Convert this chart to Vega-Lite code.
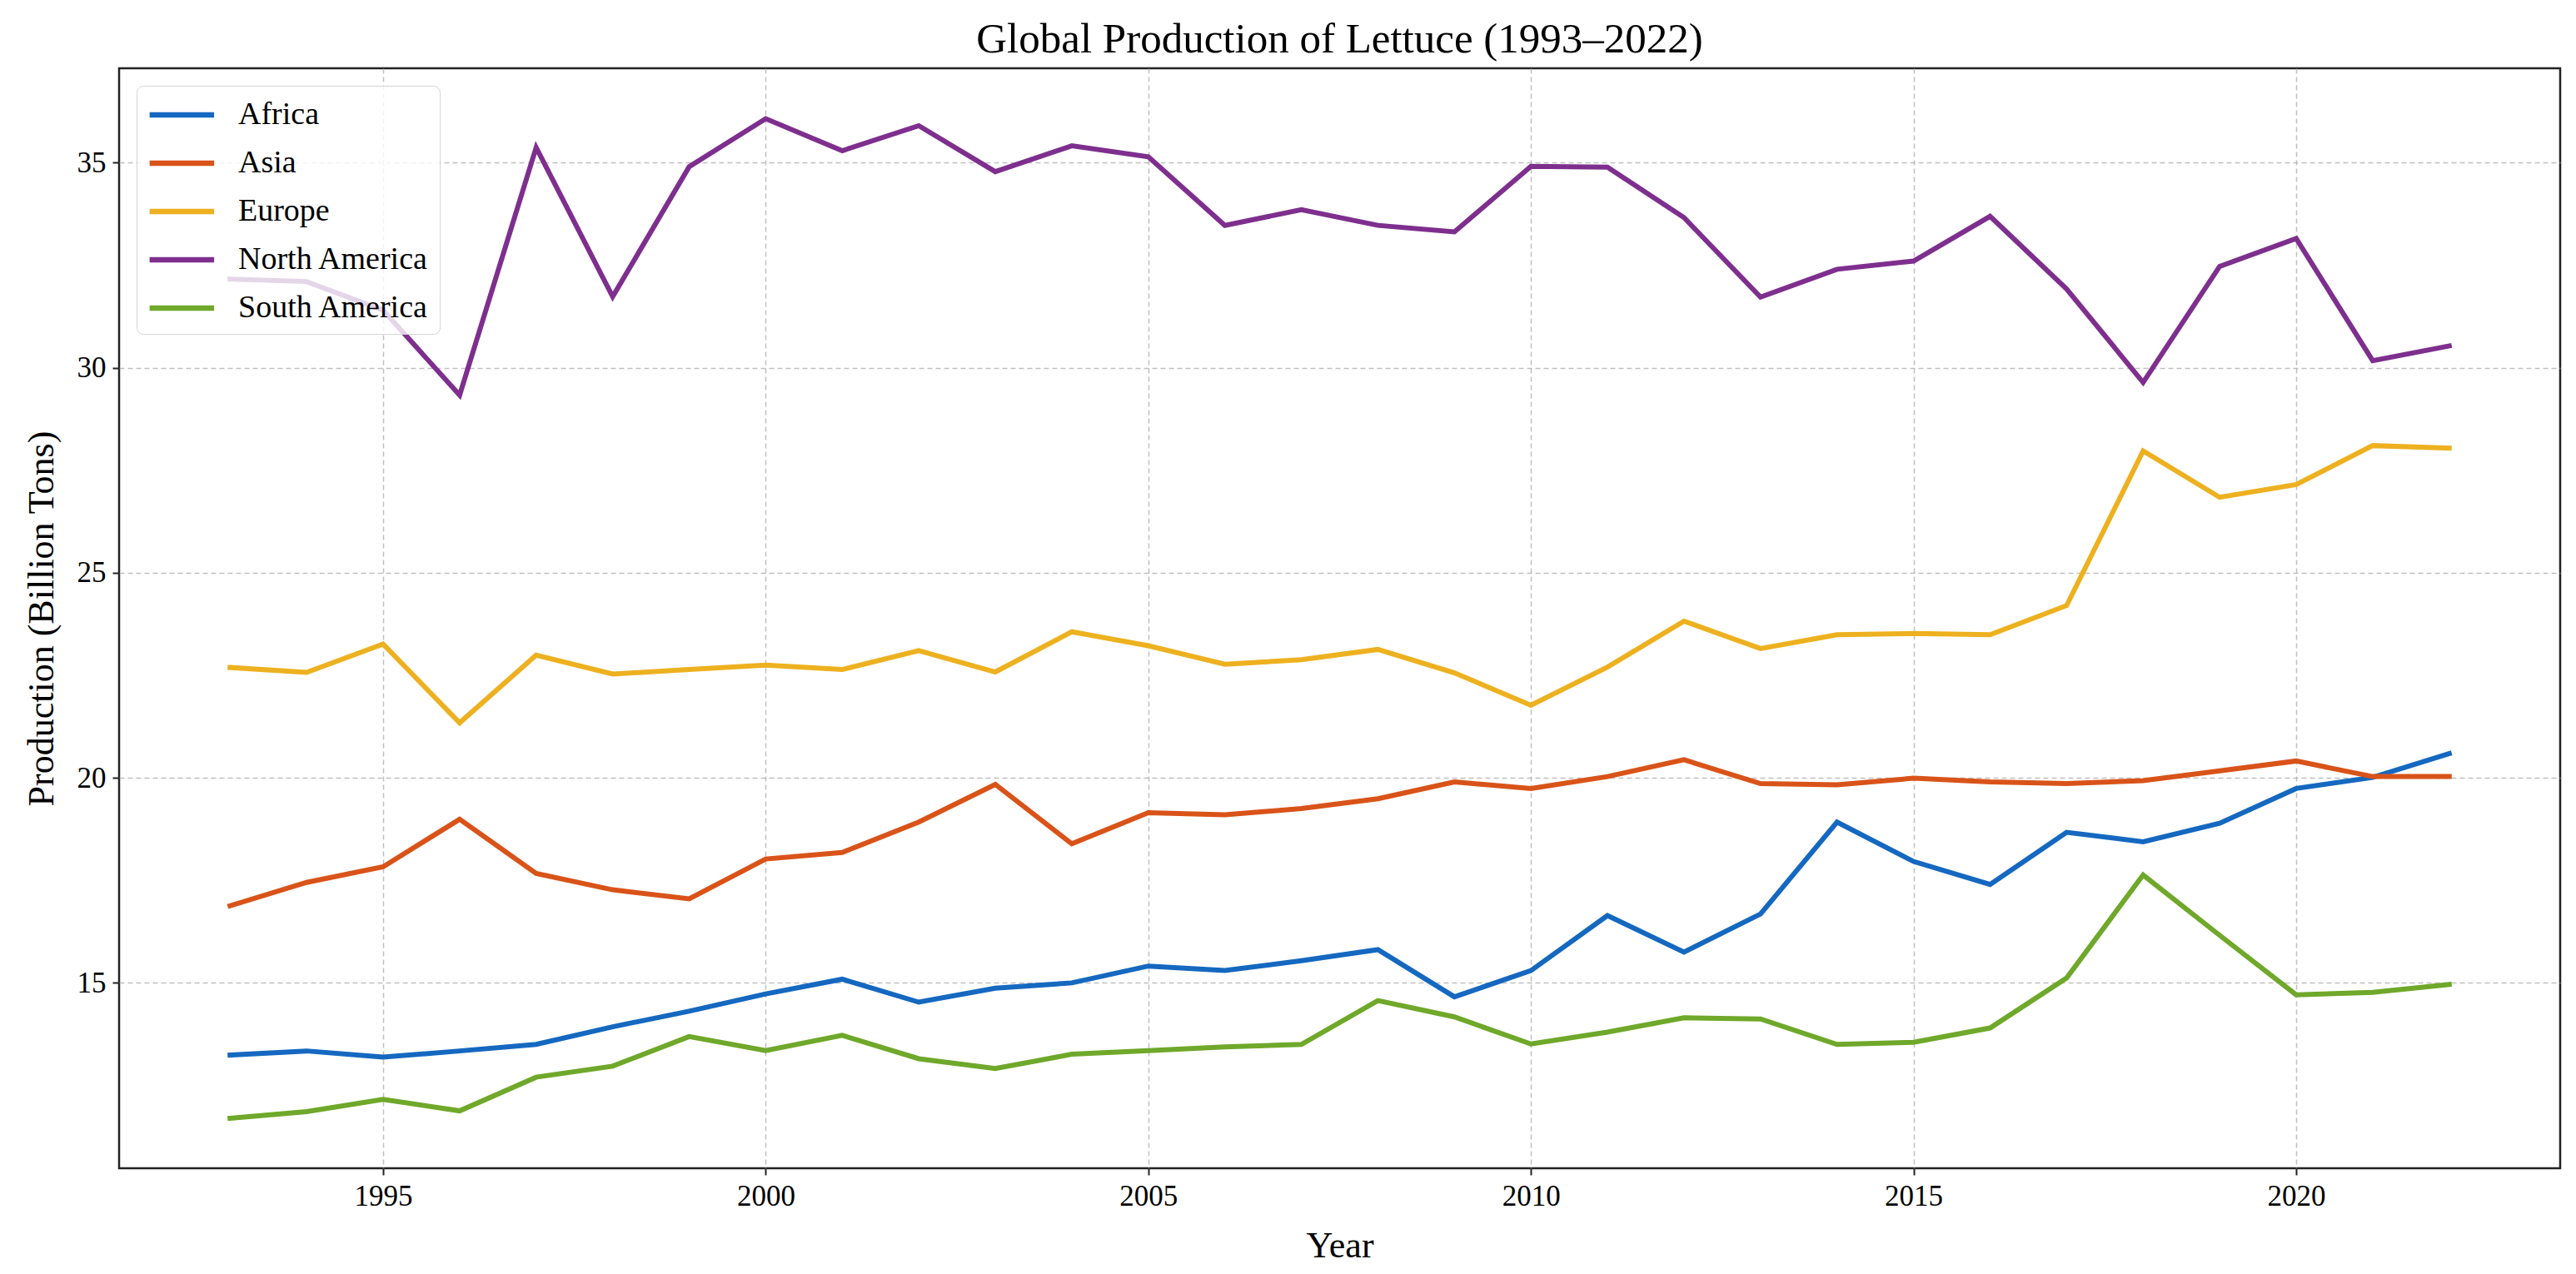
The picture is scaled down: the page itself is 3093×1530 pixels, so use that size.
{
  "$schema": "https://vega.github.io/schema/vega-lite/v6.json",
  "autosize": {"type": "none"},
  "padding": {"left": 143, "top": 82, "right": 19, "bottom": 127},
  "width": 2931,
  "height": 1321,
  "background": "white",
  "title": {
    "text": "Global Production of Lettuce (1993–2022)",
    "font": "Liberation Serif",
    "fontSize": 51,
    "fontWeight": "normal",
    "color": "black",
    "anchor": "middle",
    "offset": 8
  },
  "datasets": {
    "prod": [
      {"year": 1993, "region": "Africa", "value": 13.24},
      {"year": 1994, "region": "Africa", "value": 13.34},
      {"year": 1995, "region": "Africa", "value": 13.19},
      {"year": 1996, "region": "Africa", "value": 13.34},
      {"year": 1997, "region": "Africa", "value": 13.5},
      {"year": 1998, "region": "Africa", "value": 13.93},
      {"year": 1999, "region": "Africa", "value": 14.31},
      {"year": 2000, "region": "Africa", "value": 14.73},
      {"year": 2001, "region": "Africa", "value": 15.09},
      {"year": 2002, "region": "Africa", "value": 14.53},
      {"year": 2003, "region": "Africa", "value": 14.87},
      {"year": 2004, "region": "Africa", "value": 15.0},
      {"year": 2005, "region": "Africa", "value": 15.41},
      {"year": 2006, "region": "Africa", "value": 15.3},
      {"year": 2007, "region": "Africa", "value": 15.54},
      {"year": 2008, "region": "Africa", "value": 15.81},
      {"year": 2009, "region": "Africa", "value": 14.66},
      {"year": 2010, "region": "Africa", "value": 15.3},
      {"year": 2011, "region": "Africa", "value": 16.64},
      {"year": 2012, "region": "Africa", "value": 15.75},
      {"year": 2013, "region": "Africa", "value": 16.68},
      {"year": 2014, "region": "Africa", "value": 18.92},
      {"year": 2015, "region": "Africa", "value": 17.96},
      {"year": 2016, "region": "Africa", "value": 17.4},
      {"year": 2017, "region": "Africa", "value": 18.67},
      {"year": 2018, "region": "Africa", "value": 18.44},
      {"year": 2019, "region": "Africa", "value": 18.89},
      {"year": 2020, "region": "Africa", "value": 19.74},
      {"year": 2021, "region": "Africa", "value": 20.01},
      {"year": 2022, "region": "Africa", "value": 20.59},
      {"year": 1993, "region": "Asia", "value": 16.88},
      {"year": 1994, "region": "Asia", "value": 17.45},
      {"year": 1995, "region": "Asia", "value": 17.83},
      {"year": 1996, "region": "Asia", "value": 18.99},
      {"year": 1997, "region": "Asia", "value": 17.67},
      {"year": 1998, "region": "Asia", "value": 17.27},
      {"year": 1999, "region": "Asia", "value": 17.05},
      {"year": 2000, "region": "Asia", "value": 18.02},
      {"year": 2001, "region": "Asia", "value": 18.18},
      {"year": 2002, "region": "Asia", "value": 18.92},
      {"year": 2003, "region": "Asia", "value": 19.84},
      {"year": 2004, "region": "Asia", "value": 18.39},
      {"year": 2005, "region": "Asia", "value": 19.15},
      {"year": 2006, "region": "Asia", "value": 19.1},
      {"year": 2007, "region": "Asia", "value": 19.25},
      {"year": 2008, "region": "Asia", "value": 19.49},
      {"year": 2009, "region": "Asia", "value": 19.9},
      {"year": 2010, "region": "Asia", "value": 19.74},
      {"year": 2011, "region": "Asia", "value": 20.03},
      {"year": 2012, "region": "Asia", "value": 20.44},
      {"year": 2013, "region": "Asia", "value": 19.86},
      {"year": 2014, "region": "Asia", "value": 19.83},
      {"year": 2015, "region": "Asia", "value": 19.99},
      {"year": 2016, "region": "Asia", "value": 19.9},
      {"year": 2017, "region": "Asia", "value": 19.86},
      {"year": 2018, "region": "Asia", "value": 19.93},
      {"year": 2019, "region": "Asia", "value": 20.17},
      {"year": 2020, "region": "Asia", "value": 20.41},
      {"year": 2021, "region": "Asia", "value": 20.03},
      {"year": 2022, "region": "Asia", "value": 20.03},
      {"year": 1993, "region": "Europe", "value": 22.69},
      {"year": 1994, "region": "Europe", "value": 22.57},
      {"year": 1995, "region": "Europe", "value": 23.26},
      {"year": 1996, "region": "Europe", "value": 21.34},
      {"year": 1997, "region": "Europe", "value": 22.99},
      {"year": 1998, "region": "Europe", "value": 22.53},
      {"year": 1999, "region": "Europe", "value": 22.64},
      {"year": 2000, "region": "Europe", "value": 22.75},
      {"year": 2001, "region": "Europe", "value": 22.64},
      {"year": 2002, "region": "Europe", "value": 23.1},
      {"year": 2003, "region": "Europe", "value": 22.58},
      {"year": 2004, "region": "Europe", "value": 23.56},
      {"year": 2005, "region": "Europe", "value": 23.22},
      {"year": 2006, "region": "Europe", "value": 22.77},
      {"year": 2007, "region": "Europe", "value": 22.88},
      {"year": 2008, "region": "Europe", "value": 23.13},
      {"year": 2009, "region": "Europe", "value": 22.56},
      {"year": 2010, "region": "Europe", "value": 21.77},
      {"year": 2011, "region": "Europe", "value": 22.7},
      {"year": 2012, "region": "Europe", "value": 23.82},
      {"year": 2013, "region": "Europe", "value": 23.15},
      {"year": 2014, "region": "Europe", "value": 23.49},
      {"year": 2015, "region": "Europe", "value": 23.52},
      {"year": 2016, "region": "Europe", "value": 23.49},
      {"year": 2017, "region": "Europe", "value": 24.2},
      {"year": 2018, "region": "Europe", "value": 27.97},
      {"year": 2019, "region": "Europe", "value": 26.84},
      {"year": 2020, "region": "Europe", "value": 27.15},
      {"year": 2021, "region": "Europe", "value": 28.1},
      {"year": 2022, "region": "Europe", "value": 28.04},
      {"year": 1993, "region": "North America", "value": 32.16},
      {"year": 1994, "region": "North America", "value": 32.1},
      {"year": 1995, "region": "North America", "value": 31.4},
      {"year": 1996, "region": "North America", "value": 29.33},
      {"year": 1997, "region": "North America", "value": 35.37},
      {"year": 1998, "region": "North America", "value": 31.73},
      {"year": 1999, "region": "North America", "value": 34.9},
      {"year": 2000, "region": "North America", "value": 36.07},
      {"year": 2001, "region": "North America", "value": 35.29},
      {"year": 2002, "region": "North America", "value": 35.9},
      {"year": 2003, "region": "North America", "value": 34.78},
      {"year": 2004, "region": "North America", "value": 35.41},
      {"year": 2005, "region": "North America", "value": 35.14},
      {"year": 2006, "region": "North America", "value": 33.47},
      {"year": 2007, "region": "North America", "value": 33.85},
      {"year": 2008, "region": "North America", "value": 33.47},
      {"year": 2009, "region": "North America", "value": 33.31},
      {"year": 2010, "region": "North America", "value": 34.91},
      {"year": 2011, "region": "North America", "value": 34.89},
      {"year": 2012, "region": "North America", "value": 33.66},
      {"year": 2013, "region": "North America", "value": 31.72},
      {"year": 2014, "region": "North America", "value": 32.4},
      {"year": 2015, "region": "North America", "value": 32.6},
      {"year": 2016, "region": "North America", "value": 33.69},
      {"year": 2017, "region": "North America", "value": 31.92},
      {"year": 2018, "region": "North America", "value": 29.64},
      {"year": 2019, "region": "North America", "value": 32.47},
      {"year": 2020, "region": "North America", "value": 33.15},
      {"year": 2021, "region": "North America", "value": 30.17},
      {"year": 2022, "region": "North America", "value": 30.53},
      {"year": 1993, "region": "South America", "value": 11.7},
      {"year": 1994, "region": "South America", "value": 11.86},
      {"year": 1995, "region": "South America", "value": 12.16},
      {"year": 1996, "region": "South America", "value": 11.88},
      {"year": 1997, "region": "South America", "value": 12.7},
      {"year": 1998, "region": "South America", "value": 12.97},
      {"year": 1999, "region": "South America", "value": 13.69},
      {"year": 2000, "region": "South America", "value": 13.35},
      {"year": 2001, "region": "South America", "value": 13.72},
      {"year": 2002, "region": "South America", "value": 13.15},
      {"year": 2003, "region": "South America", "value": 12.91},
      {"year": 2004, "region": "South America", "value": 13.26},
      {"year": 2005, "region": "South America", "value": 13.35},
      {"year": 2006, "region": "South America", "value": 13.44},
      {"year": 2007, "region": "South America", "value": 13.5},
      {"year": 2008, "region": "South America", "value": 14.57},
      {"year": 2009, "region": "South America", "value": 14.17},
      {"year": 2010, "region": "South America", "value": 13.51},
      {"year": 2011, "region": "South America", "value": 13.8},
      {"year": 2012, "region": "South America", "value": 14.15},
      {"year": 2013, "region": "South America", "value": 14.12},
      {"year": 2014, "region": "South America", "value": 13.5},
      {"year": 2015, "region": "South America", "value": 13.55},
      {"year": 2016, "region": "South America", "value": 13.9},
      {"year": 2017, "region": "South America", "value": 15.12},
      {"year": 2018, "region": "South America", "value": 17.63},
      {"year": 2019, "region": "South America", "value": 16.16},
      {"year": 2020, "region": "South America", "value": 14.71},
      {"year": 2021, "region": "South America", "value": 14.77},
      {"year": 2022, "region": "South America", "value": 14.96}
    ]
  },
  "data": {"name": "prod"},
  "mark": {"type": "line", "strokeWidth": 6, "strokeJoin": "miter", "strokeCap": "square", "clip": true},
  "encoding": {
    "x": {
      "field": "year",
      "type": "quantitative",
      "scale": {"domain": [1991.55, 2023.45], "nice": false, "zero": false},
      "axis": {
        "title": "Year",
        "values": [1995, 2000, 2005, 2010, 2015, 2020],
        "format": "d",
        "titlePadding": 20
      }
    },
    "y": {
      "field": "value",
      "type": "quantitative",
      "scale": {"domain": [10.48, 37.3], "nice": false, "zero": false},
      "axis": {
        "title": "Production (Billion Tons)",
        "values": [15, 20, 25, 30, 35],
        "titlePadding": 20
      }
    },
    "color": {
      "field": "region",
      "type": "nominal",
      "scale": {
        "domain": ["Africa", "Asia", "Europe", "North America", "South America"],
        "range": ["#1568C0", "#D95319", "#EDB120", "#7E2F8E", "#6FA82A"]
      },
      "legend": {
        "title": null,
        "orient": "top-left",
        "offset": 21,
        "padding": 12,
        "strokeColor": "#d4d4d4",
        "fillColor": "rgba(255,255,255,0.8)",
        "cornerRadius": 8,
        "symbolType": "M-1,0H3",
        "symbolSize": 1500,
        "symbolStrokeWidth": 6.5,
        "labelFont": "Liberation Serif",
        "labelFontSize": 38,
        "labelColor": "black",
        "labelOffset": 64,
        "labelLimit": 0,
        "rowPadding": 16
      }
    }
  },
  "config": {
    "view": {"stroke": "#222", "strokeWidth": 2.5},
    "axis": {
      "domain": false,
      "grid": true,
      "gridColor": "#b0b0b0",
      "gridDash": [6, 4],
      "gridWidth": 1.5,
      "gridOpacity": 0.8,
      "ticks": true,
      "tickColor": "#222",
      "tickSize": 8,
      "tickWidth": 2,
      "labelFont": "Liberation Serif",
      "labelFontSize": 35,
      "labelColor": "black",
      "labelPadding": 8,
      "titleFont": "Liberation Serif",
      "titleFontSize": 44,
      "titleFontWeight": "normal",
      "titleColor": "black"
    }
  }
}
